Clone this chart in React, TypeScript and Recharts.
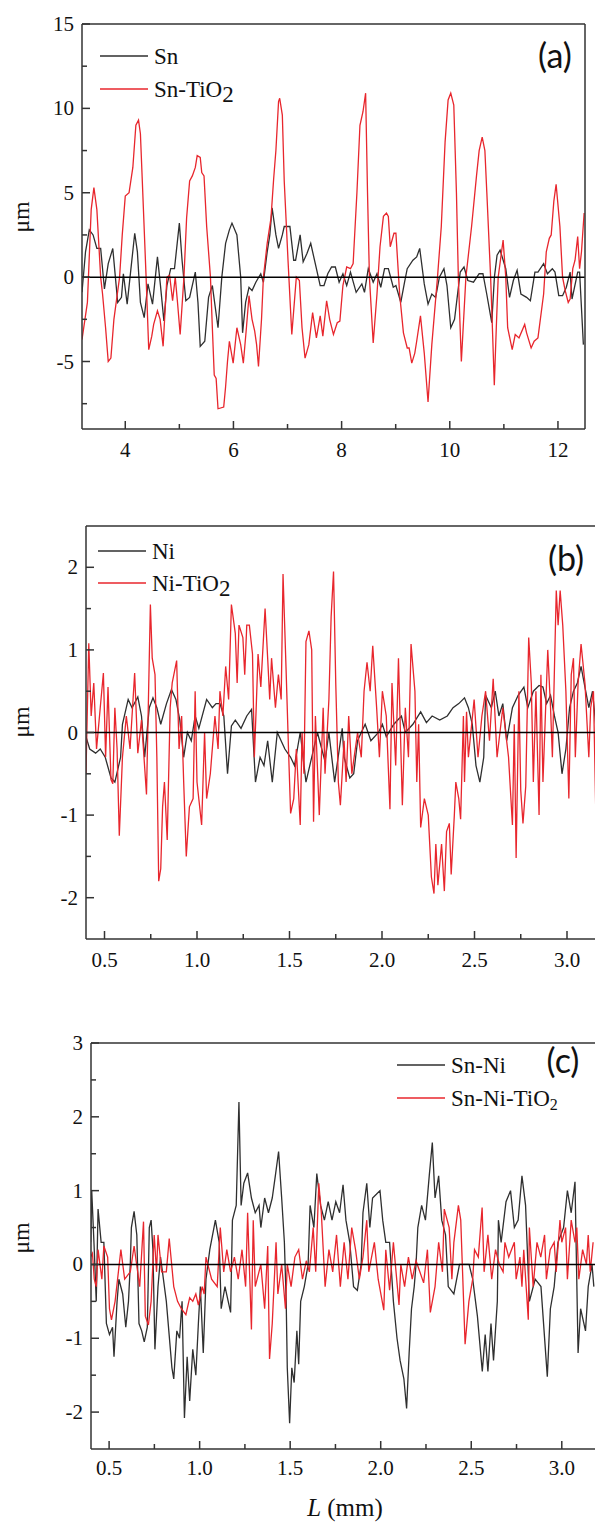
import React from 'react';
import { LineChart, Line, XAxis, YAxis, ReferenceLine } from 'recharts';

type Pt = [number, number];

const AXIS = '#333333';
const BLACK = '#2f2f2f';
const RED = '#e8262d';
const SERIF = "'Liberation Serif', 'DejaVu Serif', serif";
const SANS = "Lato, 'Open Sans', sans-serif";

// ---- panel (a): Sn vs Sn-TiO2, L in mm / height in um ----
const snProfile: Pt[] = [
  [3.2, -0.9], [3.265, 1.5], [3.335, 2.8], [3.405, 2.5], [3.475, 1.7], [3.545, 1.7], [3.615, -0.7], [3.685, 0.8],
  [3.769, 1.7], [3.86, -1.5], [3.93, -1.2], [3.965, 0.2], [4.035, -1.6], [4.105, 0.5], [4.175, 2.6], [4.224, 1.5],
  [4.28, -1.5], [4.35, -2.4], [4.42, -0.4], [4.504, -1.6], [4.595, 1.2], [4.651, -0.5], [4.714, -2.6], [4.77, -0.5],
  [4.84, 0.5], [4.91, 0.5], [5.0, 3.2], [5.05, 1.0], [5.12, -1.4], [5.19, -1.2], [5.295, 0.3], [5.344, -1.5],
  [5.386, -4.1], [5.47, -3.8], [5.54, -1.2], [5.61, -0.5], [5.715, -3.0], [5.785, 0.0], [5.855, 2.0], [5.925, 2.8],
  [5.973, 3.2], [6.064, 2.5], [6.134, 0.0], [6.169, -3.3], [6.225, -1.5], [6.288, -0.6], [6.344, -0.8], [6.414, -0.3],
  [6.505, 0.2], [6.554, -0.3], [6.624, 1.5], [6.673, 2.5], [6.715, 4.1], [6.785, 2.5], [6.834, 1.7], [6.904, 2.5],
  [6.939, 3.0], [7.044, 3.0], [7.114, 1.0], [7.149, 1.0], [7.233, 2.5], [7.289, 0.9], [7.359, 1.4], [7.429, 2.0],
  [7.534, 0.5], [7.604, -0.5], [7.674, -0.5], [7.744, 0.2], [7.814, 0.6], [7.884, 0.6], [7.954, -0.3], [8.024, 0.2],
  [8.094, -0.5], [8.164, 0.3], [8.269, -0.9], [8.374, -0.4], [8.423, -0.9], [8.493, 0.5], [8.584, -0.3], [8.654, 0.2],
  [8.724, -0.6], [8.794, 0.5], [8.864, 0.5], [8.955, -0.6], [9.004, -0.5], [9.094, -1.5], [9.164, -0.3], [9.213, 0.5],
  [9.318, 1.0], [9.388, 1.2], [9.444, 1.7], [9.528, -0.4], [9.598, -1.6], [9.668, -1.0], [9.738, -1.2], [9.808, 0.0],
  [9.892, 0.5], [9.948, -0.5], [10.018, -3.0], [10.088, -2.5], [10.193, 0.3], [10.263, 0.6], [10.333, -0.2], [10.438, -0.3],
  [10.543, 0.2], [10.613, 0.2], [10.683, -1.0], [10.776, -2.7], [10.825, 0.0], [10.874, 1.3], [10.93, 1.6], [11.035, 0.5],
  [11.105, -1.2], [11.175, -0.2], [11.245, 0.4], [11.315, -1.0], [11.42, -1.2], [11.49, -1.4], [11.574, 0.3], [11.63, 0.3],
  [11.735, 0.8], [11.805, 0.2], [11.896, 0.5], [11.945, 0.3], [12.015, -1.1], [12.085, -1.1], [12.155, -0.6], [12.225, 0.3],
  [12.26, -1.3], [12.365, 0.3], [12.4, 0.3], [12.47, -4.0],
];

const snTiO2Profile: Pt[] = [
  [3.2, -3.7], [3.3, -1.5], [3.37, 4.0], [3.42, 5.3], [3.475, 4.0], [3.545, 0.0], [3.58, -1.0], [3.636, -3.0],
  [3.685, -5.0], [3.734, -4.8], [3.79, -2.5], [3.895, 0.0], [3.944, 2.5], [4.0, 4.8], [4.07, 5.0], [4.14, 6.5],
  [4.196, 9.0], [4.245, 9.3], [4.28, 8.5], [4.315, 5.7], [4.385, 0.0], [4.434, -4.3], [4.49, -3.5], [4.525, -2.8],
  [4.595, -2.0], [4.644, -2.5], [4.7, -4.1], [4.77, 0.0], [4.82, 0.1], [4.875, -1.4], [4.924, 0.0], [4.966, -1.5],
  [5.015, -3.4], [5.085, 0.0], [5.134, 3.5], [5.19, 5.7], [5.24, 6.0], [5.295, 6.5], [5.33, 7.2], [5.386, 7.1],
  [5.414, 6.2], [5.456, 6.0], [5.505, 3.0], [5.575, 0.0], [5.61, -3.0], [5.645, -5.8], [5.68, -6.0], [5.715, -7.8],
  [5.82, -7.7], [5.855, -6.5], [5.89, -5.0], [5.925, -3.8], [5.995, -5.1], [6.064, -3.0], [6.134, -4.0], [6.183, -5.1],
  [6.24, -3.0], [6.288, -1.1], [6.344, -2.5], [6.393, -3.2], [6.428, -4.0], [6.463, -5.3], [6.519, -2.5], [6.554, 0.0],
  [6.624, 2.0], [6.694, 3.5], [6.743, 5.8], [6.785, 7.5], [6.834, 10.4], [6.855, 10.6], [6.904, 9.6], [6.939, 5.7],
  [7.009, 1.0], [7.079, -3.4], [7.163, 0.0], [7.219, -0.2], [7.268, -3.0], [7.324, -4.8], [7.394, -4.0], [7.464, -2.1],
  [7.534, -3.6], [7.604, -2.3], [7.653, -3.5], [7.723, -1.4], [7.779, -2.5], [7.849, -3.4], [7.919, -2.7], [7.968, -2.6],
  [8.024, -0.5], [8.094, 0.6], [8.164, 0.5], [8.213, 0.8], [8.283, 5.0], [8.339, 9.0], [8.395, 9.8], [8.444, 10.9],
  [8.479, 5.0], [8.514, 0.0], [8.584, -3.9], [8.654, -1.0], [8.71, 1.8], [8.773, 3.6], [8.829, 3.8], [8.864, 3.6],
  [8.899, 1.8], [8.968, 2.6], [9.004, 2.6], [9.073, -1.0], [9.143, -3.3], [9.213, -4.2], [9.248, -4.2], [9.297, -5.1],
  [9.353, -4.5], [9.388, -3.8], [9.458, -2.3], [9.528, -4.5], [9.598, -7.4], [9.668, -4.0], [9.773, 0.0], [9.843, 3.0],
  [9.913, 8.0], [9.969, 10.5], [10.018, 10.9], [10.074, 10.2], [10.123, 5.0], [10.158, 0.0], [10.214, -5.0], [10.298, 0.0],
  [10.403, 3.0], [10.494, 6.0], [10.543, 7.5], [10.599, 8.3], [10.649, 7.5], [10.685, 5.0], [10.755, 0.0], [10.79, -3.2],
  [10.823, -6.4], [10.86, -3.0], [10.895, 0.0], [10.986, 2.2], [11.035, 0.0], [11.07, -3.0], [11.154, -4.3], [11.21, -3.4],
  [11.28, -3.6], [11.385, -2.8], [11.42, -3.3], [11.504, -4.2], [11.56, -3.8], [11.63, -3.6], [11.735, -1.0], [11.784, 1.5],
  [11.84, 2.3], [11.875, 2.5], [11.924, 4.5], [11.966, 5.5], [12.036, 3.0], [12.085, 0.0], [12.134, -0.8], [12.19, -1.5],
  [12.225, -1.3], [12.274, 0.5], [12.316, 1.0], [12.365, 2.4], [12.4, 0.5], [12.435, 1.5], [12.484, 3.8],
];

// ---- panel (b): Ni vs Ni-TiO2 ----
const niProfile: Pt[] = [
  [0.4, -0.05], [0.42, -0.2], [0.452, -0.25], [0.477, -0.2], [0.504, -0.3], [0.535, -0.55], [0.556, -0.6], [0.587, -0.3],
  [0.597, 0.1], [0.628, 0.4], [0.649, 0.3], [0.68, 0.43], [0.7, 0.2], [0.717, -0.3], [0.742, 0.3], [0.762, 0.42],
  [0.783, 0.3], [0.804, 0.1], [0.835, 0.35], [0.862, 0.52], [0.886, 0.4], [0.907, 0.15], [0.928, -0.3], [0.948, 0.0],
  [0.969, -0.1], [0.99, 0.2], [1.01, 0.05], [1.052, 0.4], [1.083, 0.3], [1.103, 0.35], [1.124, 0.35], [1.145, 0.2],
  [1.165, -0.5], [1.186, 0.08], [1.207, 0.15], [1.238, 0.05], [1.269, 0.2], [1.295, 0.28], [1.316, -0.6], [1.341, -0.3],
  [1.362, -0.4], [1.382, -0.1], [1.407, -0.6], [1.434, 0.0], [1.475, -0.2], [1.506, -0.3], [1.527, -0.4], [1.558, 0.0],
  [1.589, -0.6], [1.62, -0.3], [1.651, 0.0], [1.692, -0.35], [1.713, 0.0], [1.744, -0.6], [1.785, 0.05], [1.795, -0.3],
  [1.826, -0.55], [1.847, -0.5], [1.868, -0.1], [1.888, 0.0], [1.909, 0.1], [1.94, -0.1], [1.981, 0.0], [2.002, 0.1],
  [2.023, -0.05], [2.064, 0.1], [2.105, 0.2], [2.126, 0.0], [2.167, 0.1], [2.209, 0.25], [2.24, 0.12], [2.271, 0.2],
  [2.312, 0.15], [2.353, 0.2], [2.384, 0.3], [2.415, 0.35], [2.446, 0.42], [2.467, 0.3], [2.488, 0.1], [2.508, -0.4],
  [2.529, -0.6], [2.55, -0.3], [2.56, 0.45], [2.591, 0.3], [2.612, 0.5], [2.632, 0.2], [2.653, 0.35], [2.674, -0.1],
  [2.705, 0.3], [2.736, 0.45], [2.767, 0.55], [2.788, 0.3], [2.818, 0.5], [2.849, 0.57], [2.87, 0.55], [2.89, 0.35],
  [2.911, 0.45], [2.932, 0.2], [2.952, 0.0], [2.973, -0.5], [2.994, -0.2], [3.014, 0.3], [3.035, 0.5], [3.056, 0.6],
  [3.076, 0.8], [3.097, 0.55], [3.118, 0.3], [3.138, 0.5], [3.159, 0.0], [3.18, -0.3],
];

const niTiO2Profile: Pt[] = [
  [0.4, -0.49], [0.415, 1.08], [0.428, 0.2], [0.442, 0.6], [0.457, -0.2], [0.477, 0.3], [0.494, 0.72], [0.506, -0.3],
  [0.519, 0.55], [0.535, -0.57], [0.545, -0.62], [0.556, 0.3], [0.568, -0.2], [0.58, -1.25], [0.597, -0.3], [0.618, 0.2],
  [0.638, -0.2], [0.663, 0.72], [0.68, -0.25], [0.7, 0.15], [0.727, -0.75], [0.748, 1.55], [0.758, 0.9], [0.773, 0.7],
  [0.783, -0.3], [0.793, -1.8], [0.804, -1.65], [0.814, -0.9], [0.824, -0.6], [0.839, -1.3], [0.855, 0.3], [0.866, 0.6],
  [0.89, 0.87], [0.903, -0.2], [0.917, 0.2], [0.928, -0.6], [0.942, -1.5], [0.959, -0.9], [0.979, -0.8], [0.99, 0.5],
  [1.0, -0.6], [1.025, -1.12], [1.041, 0.0], [1.052, -0.8], [1.072, -0.5], [1.097, 0.2], [1.114, -0.2], [1.124, 0.5],
  [1.14, 0.2], [1.155, 0.8], [1.171, 0.4], [1.186, 1.55], [1.207, 1.2], [1.217, 0.6], [1.227, 1.3], [1.248, 1.15],
  [1.258, 0.7], [1.269, 1.3], [1.283, 1.3], [1.3, 0.95], [1.31, -0.3], [1.32, 0.3], [1.33, 0.95], [1.345, 0.55],
  [1.368, 1.5], [1.382, 0.9], [1.393, 0.4], [1.403, 0.9], [1.424, 0.3], [1.44, 0.7], [1.455, 0.4], [1.465, 1.92],
  [1.481, 0.8], [1.496, -0.3], [1.506, -0.98], [1.523, -0.8], [1.537, -0.2], [1.558, -1.12], [1.568, 0.0], [1.578, -0.5],
  [1.589, 1.1], [1.605, 1.23], [1.62, 1.0], [1.63, -1.08], [1.64, 0.2], [1.661, -1.0], [1.682, 0.3], [1.692, -0.5],
  [1.713, 0.4], [1.725, 1.4], [1.738, 1.95], [1.75, 0.6], [1.764, -0.6], [1.775, -0.88], [1.795, -0.1], [1.806, -0.6],
  [1.82, 0.2], [1.837, -0.5], [1.868, 0.0], [1.888, -0.3], [1.903, 0.5], [1.919, 0.85], [1.936, 0.5], [1.95, 1.05],
  [1.971, 0.3], [1.986, -0.3], [2.002, 0.5], [2.023, 0.2], [2.043, -0.93], [2.054, 0.6], [2.074, -0.4], [2.089, 0.9],
  [2.11, -0.88], [2.126, 0.3], [2.143, -0.3], [2.157, 1.07], [2.178, 0.5], [2.188, -0.6], [2.198, 0.1], [2.209, -1.15],
  [2.229, -0.8], [2.25, -1.0], [2.267, -1.75], [2.281, -1.95], [2.291, -1.35], [2.302, -1.85], [2.322, -1.35], [2.337, -1.92],
  [2.349, -1.2], [2.364, -1.1], [2.374, -1.72], [2.391, -1.0], [2.399, -0.6], [2.415, -0.8], [2.425, -1.05], [2.44, 0.2],
  [2.446, -0.6], [2.457, 0.25], [2.467, -0.3], [2.498, 0.4], [2.519, -0.3], [2.54, 0.2], [2.56, 0.5], [2.581, -0.1],
  [2.601, 0.65], [2.622, -0.3], [2.653, 0.3], [2.684, -0.3], [2.705, -1.12], [2.715, 0.1], [2.725, -1.52], [2.74, 0.5],
  [2.75, -0.7], [2.762, -1.1], [2.777, -0.65], [2.793, 1.15], [2.807, 0.6], [2.818, -0.6], [2.832, 0.5], [2.849, -1.0],
  [2.859, 0.7], [2.87, -0.6], [2.896, 1.0], [2.911, 0.3], [2.921, -0.3], [2.942, 1.72], [2.952, 1.3], [2.963, 1.72],
  [2.977, 1.3], [2.994, 0.5], [3.01, -0.8], [3.023, 0.7], [3.035, 0.9], [3.045, -0.3], [3.06, 0.6], [3.076, 1.07],
  [3.097, 0.6], [3.118, -0.3], [3.128, 0.3], [3.143, 0.5], [3.159, -1.35], [3.176, 0.2],
];

// ---- panel (c): Sn-Ni vs Sn-Ni-TiO2 ----
const snNiProfile: Pt[] = [
  [0.398, 0.3], [0.404, 1.0], [0.418, 0.2], [0.429, -0.5], [0.439, 0.75], [0.456, 0.3], [0.471, 0.3], [0.485, -0.8],
  [0.502, -0.95], [0.519, -0.85], [0.527, -1.25], [0.544, -0.5], [0.554, -0.2], [0.575, -0.4], [0.592, -0.85], [0.607, -0.5],
  [0.617, 0.0], [0.623, 0.5], [0.638, 0.72], [0.653, 0.4], [0.665, -0.8], [0.68, -0.9], [0.694, -1.05], [0.711, -0.85],
  [0.722, 0.5], [0.732, 0.6], [0.742, 0.2], [0.753, -1.15], [0.77, -0.3], [0.784, 0.1], [0.816, -0.5], [0.847, -1.4],
  [0.857, -1.55], [0.874, -0.9], [0.889, -1.0], [0.903, -0.5], [0.916, -2.08], [0.931, -1.25], [0.945, -1.85], [0.962, -1.15],
  [0.979, -1.5], [0.993, -0.8], [1.004, -0.3], [1.02, -1.2], [1.035, -0.2], [1.056, 0.2], [1.087, 0.6], [1.108, 0.3],
  [1.119, -0.6], [1.14, -0.3], [1.171, -0.65], [1.181, 0.6], [1.202, 0.8], [1.217, 2.2], [1.229, 0.8], [1.244, 1.1],
  [1.265, 1.24], [1.286, 0.9], [1.307, 0.7], [1.328, 0.8], [1.338, 0.5], [1.359, 0.9], [1.38, 0.7], [1.401, 0.9],
  [1.418, 1.2], [1.436, 1.53], [1.453, 0.9], [1.468, 0.3], [1.478, -0.5], [1.484, -1.4], [1.497, -2.15], [1.509, -1.4],
  [1.522, -1.6], [1.537, -0.9], [1.547, -1.35], [1.558, -0.5], [1.578, -0.3], [1.599, 0.0], [1.61, 0.8], [1.631, 0.5],
  [1.647, 1.23], [1.668, 0.8], [1.689, 0.6], [1.71, 0.85], [1.731, 0.6], [1.752, 0.85], [1.773, 0.7], [1.792, 1.08],
  [1.808, 0.6], [1.829, 0.3], [1.85, -0.3], [1.871, -0.35], [1.892, 0.0], [1.902, 0.7], [1.923, 1.1], [1.94, 0.5],
  [1.955, 0.9], [1.976, 0.95], [1.996, 1.0], [2.011, 0.6], [2.028, 0.3], [2.049, 0.3], [2.07, -0.5], [2.09, -1.0],
  [2.107, -1.3], [2.128, -1.55], [2.143, -1.95], [2.157, -1.2], [2.17, -0.6], [2.185, -0.3], [2.195, 0.0], [2.205, 0.5],
  [2.226, 0.8], [2.247, 0.6], [2.268, 1.2], [2.285, 1.65], [2.3, 0.9], [2.32, 1.2], [2.337, 0.6], [2.358, 0.4],
  [2.373, -0.3], [2.404, -0.4], [2.435, 0.0], [2.488, 0.0], [2.508, -0.2], [2.534, -0.7], [2.561, -1.45], [2.577, -0.95],
  [2.592, -1.45], [2.609, -0.8], [2.623, -1.3], [2.644, -0.5], [2.65, 0.6], [2.665, 0.3], [2.692, 0.85], [2.717, 1.0],
  [2.738, 0.5], [2.759, 0.6], [2.78, 1.2], [2.8, 0.8], [2.821, -0.5], [2.853, -0.2], [2.885, -0.3], [2.92, -1.52],
  [2.937, -0.6], [2.958, -0.3], [2.979, 0.3], [3.01, 0.5], [3.031, 1.0], [3.052, 0.7], [3.073, 1.12], [3.09, -1.2],
  [3.104, -0.6], [3.131, -0.9], [3.146, -0.3], [3.167, 0.0], [3.177, -0.3],
];

const snNiTiO2Profile: Pt[] = [
  [0.398, 0.1], [0.408, 0.15], [0.418, -0.2], [0.429, -0.3], [0.439, 0.2], [0.46, -0.2], [0.471, 0.25], [0.492, 0.1],
  [0.502, -0.6], [0.513, -0.75], [0.533, -0.5], [0.565, 0.2], [0.586, -0.2], [0.617, -0.1], [0.638, 0.25], [0.669, -0.3],
  [0.69, 0.58], [0.7, -0.7], [0.717, -0.82], [0.732, -0.5], [0.749, 0.4], [0.762, -0.1], [0.77, 0.4], [0.79, -0.1],
  [0.816, -0.1], [0.832, 0.35], [0.857, -0.3], [0.878, -0.5], [0.899, -0.6], [0.924, -0.68], [0.945, -0.45], [0.962, -0.5],
  [0.979, -0.4], [0.993, -0.55], [1.014, -0.3], [1.025, -0.4], [1.035, 0.1], [1.066, -0.2], [1.097, -0.3], [1.114, 0.5],
  [1.133, -0.1], [1.15, 0.2], [1.171, -0.1], [1.192, 0.1], [1.213, -0.2], [1.234, 0.2], [1.254, -0.3], [1.265, 0.7],
  [1.286, -0.88], [1.296, 0.6], [1.307, -0.3], [1.338, 0.0], [1.359, -0.6], [1.376, 0.25], [1.386, -1.28], [1.401, -0.8],
  [1.422, 0.3], [1.432, -0.4], [1.453, 0.0], [1.474, -0.6], [1.484, 0.0], [1.505, -0.3], [1.526, 0.1], [1.547, 0.2],
  [1.568, -0.2], [1.589, 0.05], [1.606, -0.1], [1.627, 0.5], [1.641, -0.1], [1.658, 1.1], [1.672, 0.7], [1.693, -0.3],
  [1.714, 0.2], [1.735, -0.1], [1.756, 0.4], [1.777, -0.3], [1.798, 0.3], [1.819, -0.2], [1.84, 0.5], [1.861, 0.2],
  [1.882, -0.2], [1.902, 0.1], [1.923, 0.6], [1.934, -0.1], [1.965, 0.3], [1.986, -0.2], [2.017, -0.62], [2.028, 0.2],
  [2.049, -0.35], [2.07, 0.3], [2.101, -0.55], [2.111, 0.0], [2.132, -0.3], [2.153, 0.1], [2.174, -0.2], [2.195, 0.05],
  [2.216, -0.1], [2.237, -0.25], [2.258, 0.2], [2.274, -0.65], [2.3, -0.3], [2.32, 0.3], [2.341, -0.1], [2.351, 0.75],
  [2.378, 0.5], [2.393, -0.2], [2.404, 0.3], [2.429, 0.8], [2.442, 0.6], [2.452, -0.1], [2.466, -1.08], [2.487, -0.5],
  [2.508, -0.2], [2.518, 0.2], [2.539, 0.1], [2.56, 0.77], [2.571, -0.1], [2.592, 0.4], [2.613, -0.2], [2.634, 0.2],
  [2.655, 0.0], [2.676, -0.1], [2.686, 0.3], [2.707, 0.1], [2.738, 0.3], [2.748, -0.2], [2.769, 0.1], [2.78, -0.3],
  [2.79, 0.2], [2.815, -0.75], [2.821, 0.5], [2.842, -0.3], [2.863, 0.3], [2.884, 0.1], [2.905, 0.4], [2.915, -0.2],
  [2.936, 0.2], [2.958, 0.3], [2.969, -0.1], [2.99, 0.6], [3.0, 0.3], [3.021, 0.5], [3.031, -0.2], [3.052, 0.6],
  [3.073, 0.3], [3.083, 0.5], [3.094, -0.2], [3.115, 0.2], [3.136, 0.0], [3.146, 0.4], [3.157, -0.1], [3.173, 0.3],
];

// ticks (major ones get a label, the rest are minor)
const aXTicks = [4, 5, 6, 7, 8, 9, 10, 11, 12];
const aXLabels = [4, 6, 8, 10, 12];
const aYTicks = [-7.5, -5, -2.5, 0, 2.5, 5, 7.5, 10, 12.5, 15];
const aYLabels = [-5, 0, 5, 10, 15];
const mmTicks = [0.5, 0.75, 1.0, 1.25, 1.5, 1.75, 2.0, 2.25, 2.5, 2.75, 3.0];
const mmLabels = [0.5, 1.0, 1.5, 2.0, 2.5, 3.0];
const bYTicks = [-2, -1.5, -1, -0.5, 0, 0.5, 1, 1.5, 2];
const bYLabels = [-2, -1, 0, 1, 2];
const cYTicks = [-2, -1.5, -1, -0.5, 0, 0.5, 1, 1.5, 2, 2.5, 3];
const cYLabels = [-2, -1, 0, 1, 2, 3];

const toRows = (pts: Pt[]) => pts.map(([x, y]) => ({ x, y }));
const isIn = (list: number[], v: number) => list.some((m) => Math.abs(m - v) < 1e-6);

const serifText = { fontFamily: SERIF };

// ticks point into the plot, like the Origin export
const XTick = (props: any) => {
  const { x, y, payload, majors, digits, dy } = props;
  const major = isIn(majors, payload.value);
  return (
    <g>
      <line x1={x} x2={x} y1={y} y2={y - (major ? 8 : 5)} stroke={AXIS} strokeWidth={1.5} />
      {major && (
        <text x={x} y={y + dy} textAnchor="middle" style={serifText} fontSize={21} fill="#111">
          {payload.value.toFixed(digits)}
        </text>
      )}
    </g>
  );
};

const YTick = (props: any) => {
  const { x, y, payload, majors } = props;
  const major = isIn(majors, payload.value);
  return (
    <g>
      <line x1={x} x2={x + (major ? 8 : 5)} y1={y} y2={y} stroke={AXIS} strokeWidth={1.5} />
      {major && (
        <text x={x - 8} y={y + 7} textAnchor="end" style={serifText} fontSize={21} fill="#111">
          {String(payload.value)}
        </text>
      )}
    </g>
  );
};

interface PanelProps {
  top: number;
  width: number;
  height: number;
  margin: { top: number; right: number; bottom: number; left: number };
  xDomain: [number, number];
  yDomain: [number, number];
  xTicks: number[];
  xLabels: number[];
  xDigits: number;
  yTicks: number[];
  yLabels: number[];
  labelDy: number;
  black: Pt[];
  red: Pt[];
  boxRight?: boolean;
}

const Panel = (p: PanelProps) => (
  <div style={{ position: 'absolute', left: 0, top: p.top }}>
    <LineChart width={p.width} height={p.height} margin={p.margin}>
      <XAxis
        type="number"
        dataKey="x"
        domain={p.xDomain}
        ticks={p.xTicks}
        interval={0}
        allowDataOverflow
        height={40}
        tickSize={0}
        tickMargin={0}
        tickLine={false}
        axisLine={{ stroke: AXIS, strokeWidth: 1.5 }}
        tick={<XTick majors={p.xLabels} digits={p.xDigits} dy={p.labelDy} />}
      />
      <YAxis
        type="number"
        domain={p.yDomain}
        ticks={p.yTicks}
        interval={0}
        allowDataOverflow
        width={60}
        tickSize={0}
        tickMargin={0}
        tickLine={false}
        axisLine={{ stroke: AXIS, strokeWidth: 1.5 }}
        tick={<YTick majors={p.yLabels} />}
      />
      <Line data={toRows(p.black)} dataKey="y" type="linear" stroke={BLACK} strokeWidth={1.3} dot={false} isAnimationActive={false} />
      <Line data={toRows(p.red)} dataKey="y" type="linear" stroke={RED} strokeWidth={1.3} dot={false} isAnimationActive={false} />
      <ReferenceLine y={0} stroke="#000" strokeWidth={1.5} />
      <ReferenceLine y={p.yDomain[1]} stroke={AXIS} strokeWidth={1.5} />
      {p.boxRight && <ReferenceLine x={p.xDomain[1]} stroke={AXIS} strokeWidth={1.5} />}
    </LineChart>
  </div>
);

const LegendRow = ({ x, y, color, children }: { x: number; y: number; color: string; children: React.ReactNode }) => (
  <g>
    <line x1={x} x2={x + 48} y1={y} y2={y} stroke={color} strokeWidth={1.3} />
    <text x={x + 54} y={y + 8} style={serifText} fontSize={23} fill="#111">
      {children}
    </text>
  </g>
);

const PanelTag = ({ x, y, label }: { x: number; y: number; label: string }) => (
  <text x={x} y={y} textAnchor="middle" style={{ fontFamily: SANS }} fontSize={34} fill="#111">
    {label}
  </text>
);

const UnitLabel = ({ y }: { y: number }) => (
  <text x={29} y={y} transform={`rotate(-90 29 ${y})`} textAnchor="middle" style={serifText} fontSize={24} fill="#111">
    μm
  </text>
);

export default function App() {
  return (
    <div
      style={{
        position: 'absolute',
        left: 0,
        top: 0,
        width: 595,
        height: 1522,
        overflow: 'hidden',
        background: '#fff',
        fontFamily: SERIF,
      }}
    >
      <Panel
        top={0}
        width={595}
        height={480}
        margin={{ top: 24, right: 10, bottom: 11, left: 22 }}
        xDomain={[3.2, 12.5]}
        yDomain={[-9, 15]}
        xTicks={aXTicks}
        xLabels={aXLabels}
        xDigits={0}
        yTicks={aYTicks}
        yLabels={aYLabels}
        labelDy={28}
        black={snProfile}
        red={snTiO2Profile}
        boxRight
      />
      <Panel
        top={490}
        width={620}
        height={490}
        margin={{ top: 36, right: 16, bottom: 1, left: 26 }}
        xDomain={[0.4, 3.2]}
        yDomain={[-2.5, 2.5]}
        xTicks={mmTicks}
        xLabels={mmLabels}
        xDigits={1}
        yTicks={bYTicks}
        yLabels={bYLabels}
        labelDy={28}
        black={niProfile}
        red={niTiO2Profile}
      />
      <Panel
        top={1000}
        width={620}
        height={522}
        margin={{ top: 43, right: 22, bottom: 33, left: 31 }}
        xDomain={[0.4, 3.2]}
        yDomain={[-2.5, 3]}
        xTicks={mmTicks}
        xLabels={mmLabels}
        xDigits={1}
        yTicks={cYTicks}
        yLabels={cYLabels}
        labelDy={26}
        black={snNiProfile}
        red={snNiTiO2Profile}
      />
      <svg width={595} height={1522} style={{ position: 'absolute', left: 0, top: 0, pointerEvents: 'none' }}>
        <UnitLabel y={217} />
        <UnitLabel y={722} />
        <UnitLabel y={1238} />

        <LegendRow x={100} y={56} color={BLACK}>Sn</LegendRow>
        <LegendRow x={100} y={89} color={RED}>
          Sn-TiO<tspan dy={5}>2</tspan>
        </LegendRow>
        <PanelTag x={555} y={68} label="(a)" />

        <LegendRow x={98} y={551} color={BLACK}>Ni</LegendRow>
        <LegendRow x={98} y={583} color={RED}>
          Ni-TiO<tspan dy={5}>2</tspan>
        </LegendRow>
        <PanelTag x={566} y={571} label="(b)" />

        <LegendRow x={397} y={1065} color={BLACK}>Sn-Ni</LegendRow>
        <LegendRow x={397} y={1098} color={RED}>
          Sn-Ni-TiO<tspan dy={4} fontSize={16}>2</tspan>
        </LegendRow>
        <PanelTag x={563} y={1073} label="(c)" />

        <text x={345} y={1516} textAnchor="middle" style={serifText} fontSize={25} fill="#111">
          <tspan fontStyle="italic">L</tspan> (mm)
        </text>
      </svg>
    </div>
  );
}
